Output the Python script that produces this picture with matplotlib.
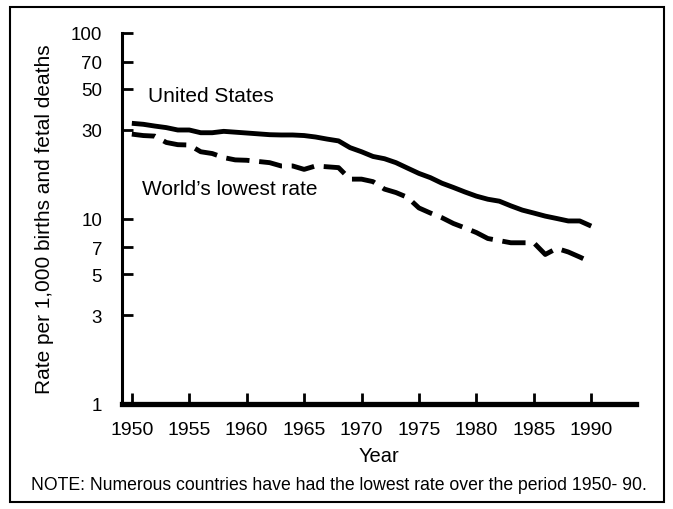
import matplotlib.pyplot as plt
from matplotlib.patches import Rectangle

plt.rcParams['font.family'] = ['Liberation Sans', 'DejaVu Sans']

years = list(range(1950, 1991))
us_rate = [32.6, 32.2, 31.5, 30.9, 30.0, 30.0, 29.0, 29.0, 29.5, 29.2,
           28.9, 28.6, 28.3, 28.2, 28.2, 28.0, 27.5, 26.8, 26.2, 24.1,
           22.9, 21.6, 21.0, 20.0, 18.7, 17.5, 16.6, 15.5, 14.7, 13.9,
           13.2, 12.7, 12.4, 11.7, 11.1, 10.7, 10.3, 10.0, 9.7, 9.7, 9.1]
lowest_rate = [28.5, 28.0, 27.8, 25.7, 25.0, 24.9, 22.9, 22.4, 21.3, 20.7,
               20.6, 20.3, 20.0, 19.2, 19.2, 18.4, 19.2, 19.0, 18.8, 16.3,
               16.3, 15.8, 14.4, 13.8, 13.0, 11.4, 10.7, 10.1, 9.4, 8.9,
               8.4, 7.8, 7.6, 7.4, 7.4, 7.4, 6.4, 6.9, 6.6, 6.2, 5.8]

xticks = [1950, 1955, 1960, 1965, 1970, 1975, 1980, 1985, 1990]
yticks = [1, 3, 5, 7, 10, 30, 50, 70, 100]

fig = plt.figure(figsize=(6.73, 5.10), dpi=100)
ax = fig.add_axes([121.5 / 673, 1 - 405 / 510, (636 - 121.5) / 673, (405 - 34) / 510])

ax.plot(years, us_rate, color='black', lw=3.5, solid_capstyle='butt')
ax.plot(years, lowest_rate, color='black', lw=3.5, dashes=(4.8, 2.0))

ax.set_yscale('log')
ax.set_ylim(1, 100)
ax.set_xlim(1949.1, 1993.9)
ax.set_yticks(yticks)
ax.set_yticklabels([str(v) for v in yticks])
ax.yaxis.set_minor_locator(plt.NullLocator())
ax.set_xticks(xticks)
ax.tick_params(axis='both', direction='in', length=8, width=2, color='black')
ax.tick_params(axis='y', pad=14, labelsize=13.5)
ax.tick_params(axis='x', pad=12, labelsize=14)

for s in ['top', 'right']:
    ax.spines[s].set_visible(False)
ax.spines['left'].set_linewidth(2.2)
ax.spines['bottom'].set_linewidth(3.8)

ax.set_xlabel('Year', fontsize=14.5, labelpad=6)
ax.set_ylabel('Rate per 1,000 births and fetal deaths', fontsize=15, labelpad=12)

ax.text(1951.4, 45.8, 'United States', fontsize=15, va='center', ha='left')
ax.text(1950.9, 14.6, 'World\u2019s lowest rate', fontsize=15, va='center', ha='left')

fig.text(31 / 673, 1 - 486 / 510,
         'NOTE: Numerous countries have had the lowest rate over the period 1950- 90.',
         fontsize=12.7, va='center', ha='left')

fig.patches.append(Rectangle((10 / 673, 7 / 510), 654 / 673, 495 / 510,
                             transform=fig.transFigure, fill=False,
                             edgecolor='black', lw=1.5))

fig.savefig('out.png', dpi=100)
